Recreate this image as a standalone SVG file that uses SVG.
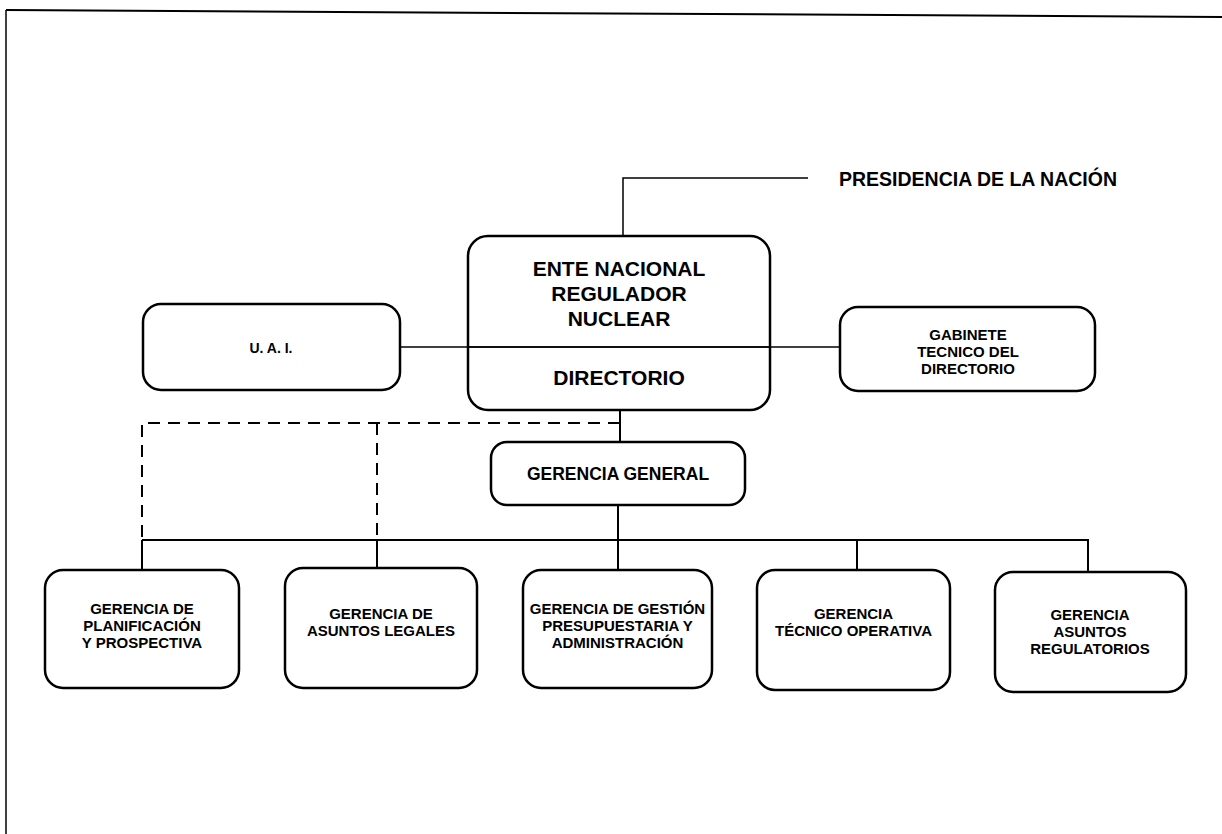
<svg xmlns="http://www.w3.org/2000/svg" width="1222" height="834" viewBox="0 0 1222 834">
<style>
.box{fill:#fff;stroke:#000;stroke-width:2.5}
.ln{fill:none;stroke:#000;stroke-width:1.5}
.bus{fill:none;stroke:#000;stroke-width:2}
.dash{fill:none;stroke:#000;stroke-width:2;stroke-dasharray:12 8}
text{font-family:"Liberation Sans",Arial,Helvetica,sans-serif;font-weight:bold;fill:#000;text-anchor:middle}
.big{font-size:21px}
.sm{font-size:15px}
</style>
<rect width="1222" height="834" fill="#fff"/>
<g id="frame">
<path d="M6,10 L1222,17" class="bus"/>
<path d="M6,10 L6,834" class="ln"/>
</g>
<g id="connectors">
<path d="M623,237 V178 H808" class="ln"/>
<path d="M400,347 H840" class="ln"/>
<path d="M620,410 V442" class="bus"/>
<path d="M620,423 H142 V540" class="dash"/>
<path d="M377,423 V540" class="dash"/>
<path d="M618,505 V570" class="bus"/>
<path d="M142,540 H1088 V572" class="bus"/>
<path d="M142,540 V570" class="bus"/>
<path d="M377,540 V568" class="bus"/>
<path d="M857,540 V570" class="bus"/>
</g>
<g id="presidencia">
<text x="978" y="186" style="font-size:19.5px">PRESIDENCIA DE LA NACIÓN</text>
</g>
<g id="ente">
<rect x="468" y="236" width="302" height="174" rx="20" class="box" style="fill:none"/>
<path d="M468,347 H770" class="ln"/>
<text x="619" y="276" class="big">ENTE NACIONAL</text>
<text x="619" y="301" class="big">REGULADOR</text>
<text x="619" y="326" class="big">NUCLEAR</text>
<text x="619" y="385" class="big">DIRECTORIO</text>
</g>
<g id="uai">
<rect x="143" y="304" width="257" height="86" rx="18" class="box"/>
<text x="271" y="353" style="font-size:14px">U. A. I.</text>
</g>
<g id="gabinete">
<rect x="840" y="307" width="255" height="84" rx="18" class="box"/>
<text x="968" y="340" class="sm">GABINETE</text>
<text x="968" y="357" class="sm">TECNICO DEL</text>
<text x="968" y="374" class="sm">DIRECTORIO</text>
</g>
<g id="gerencia-general">
<rect x="491" y="442" width="254" height="63" rx="16" class="box"/>
<text x="618" y="480" style="font-size:17.5px">GERENCIA GENERAL</text>
</g>
<g id="planificacion">
<rect x="45" y="570" width="194" height="118" rx="18" class="box"/>
<text x="142" y="614" class="sm">GERENCIA DE</text>
<text x="142" y="631" class="sm">PLANIFICACIÓN</text>
<text x="142" y="648" class="sm">Y PROSPECTIVA</text>
</g>
<g id="legales">
<rect x="285" y="568" width="192" height="120" rx="18" class="box"/>
<text x="381" y="619" class="sm">GERENCIA DE</text>
<text x="381" y="636" class="sm">ASUNTOS LEGALES</text>
</g>
<g id="gestion">
<rect x="523" y="570" width="189" height="118" rx="18" class="box"/>
<text x="617.5" y="614" class="sm">GERENCIA DE GESTIÓN</text>
<text x="617.5" y="631" class="sm">PRESUPUESTARIA Y</text>
<text x="617.5" y="648" class="sm">ADMINISTRACIÓN</text>
</g>
<g id="tecnico">
<rect x="757" y="570" width="193" height="120" rx="18" class="box"/>
<text x="853.5" y="619" class="sm">GERENCIA</text>
<text x="853.5" y="636" class="sm">TÉCNICO OPERATIVA</text>
</g>
<g id="regulatorios">
<rect x="995" y="572" width="191" height="120" rx="18" class="box"/>
<text x="1090" y="620" class="sm">GERENCIA</text>
<text x="1090" y="637" class="sm">ASUNTOS</text>
<text x="1090" y="654" class="sm">REGULATORIOS</text>
</g>
</svg>
